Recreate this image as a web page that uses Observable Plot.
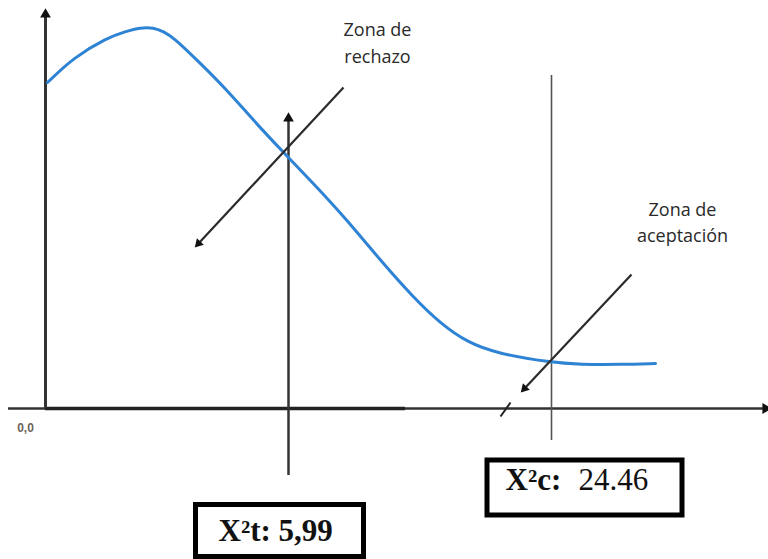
<!DOCTYPE html>
<html>
<head>
<meta charset="utf-8">
<script src="https://cdn.jsdelivr.net/npm/d3@7"></script>
<script src="https://cdn.jsdelivr.net/npm/@observablehq/plot@0.6"></script>
<style>
  html, body { margin: 0; padding: 0; background: #fff; }
  #chart svg { display: block; }
</style>
</head>
<body>
<div id="chart"></div>
<script>
// Schematic chi-square density curve (units: arbitrary, origin at 0,0)
const curveX = [2, 28, 62, 80, 95, 108, 118, 128, 152, 182, 208, 238, 268, 302, 335, 368, 395, 422, 452, 505, 535, 575, 610];
const curveY = [326, 351, 371, 377, 381, 381, 377, 371, 348, 318, 288, 256, 225, 188, 148, 111, 85, 66, 55, 46, 44, 44, 45];

// Critical values and their (schematic) positions on the x axis
const criticalLabels = ["X²t: 5,99", "X²c:"];
const criticalValueC = "24.46";
const criticalPos = [243, 506];          // positions of the vertical lines
const criticalLineLow = [-67, -32];       // bottom ends of the vertical lines
const criticalLineHigh = [290, 333];      // top ends of the vertical lines

// Axes extent
const xAxisExtent = [-37, 0, 360, 720];   // start, thick start, thick end, end
const yAxisTop = 394;

// Zone annotations
const zoneLines = [["Zona de", "rechazo"], ["Zona de", "aceptación"]];
const zoneTextX = [332, 637];
const zoneTextY = [[373, 346], [193, 167]];
const zoneArrowFrom = [[298, 321], [586, 134]];
const zoneArrowTo = [[153, 165], [479, 20]];

// Boxes around critical values
const boxX1 = [150.5, 442], boxX2 = [318.5, 637];
const boxY1 = [-96.5, -52], boxY2 = [-148.5, -107];
const boxTextX = [173, 460], boxTextY = [-132, -81];
const valueTextX = 533;

const curve = curveX.map((x, i) => ({x, y: curveY[i]}));

const zoneText = [];
zoneLines.forEach((lines, i) => lines.forEach((t, j) => zoneText.push({t, x: zoneTextX[i], y: zoneTextY[i][j]})));
const zoneArrows = zoneArrowFrom.map((f, i) => ({x1: f[0], y1: f[1], x2: zoneArrowTo[i][0], y2: zoneArrowTo[i][1]}));
const boxes = boxX1.map((x1, i) => ({x1, x2: boxX2[i], y1: boxY1[i], y2: boxY2[i]}));

const chart = Plot.plot({
  width: 768,
  height: 559,
  margin: 0,
  x: {domain: [-45, 723], range: [0, 768], axis: null},
  y: {domain: [-151, 408], range: [559, 0], axis: null},
  style: {background: "#fff"},
  marks: [
    // x axis (thick left part, thinner rest)
    Plot.ruleY([0], {x1: xAxisExtent[0], x2: xAxisExtent[3], stroke: "#333", strokeWidth: 2.5}),
    Plot.ruleY([0], {x1: xAxisExtent[1], x2: xAxisExtent[2], stroke: "#222", strokeWidth: 3.5}),
    Plot.dot([{x: xAxisExtent[3], y: 0}], {x: "x", y: "y", symbol: "triangle", r: 4, fill: "#111", rotate: 90}),
    // y axis
    Plot.ruleX([0], {y1: 0, y2: yAxisTop, stroke: "#333", strokeWidth: 3}),
    Plot.dot([{x: 0, y: yAxisTop}], {x: "x", y: "y", symbol: "triangle", r: 4, fill: "#111"}),
    // critical vertical lines
    Plot.ruleX([criticalPos[0]], {y1: criticalLineLow[0], y2: criticalLineHigh[0], stroke: "#333", strokeWidth: 2.5}),
    Plot.dot([{x: criticalPos[0], y: criticalLineHigh[0]}], {x: "x", y: "y", symbol: "triangle", r: 4, fill: "#111"}),
    Plot.ruleX([criticalPos[1]], {y1: criticalLineLow[1], y2: criticalLineHigh[1], stroke: "#555", strokeWidth: 1.6}),
    // small slash on the x axis
    Plot.link([{x1: 455, y1: -8, x2: 465, y2: 6}], {x1: "x1", y1: "y1", x2: "x2", y2: "y2", stroke: "#222", strokeWidth: 2}),
    // density curve
    Plot.line(curve, {x: "x", y: "y", curve: "basis", stroke: "#2e83d4", strokeWidth: 3}),
    // zone pointer lines
    Plot.link(zoneArrows, {x1: "x1", y1: "y1", x2: "x2", y2: "y2", stroke: "#2b2b2b", strokeWidth: 2.2}),
    Plot.dot(zoneArrows, {x: "x2", y: "y2", symbol: "triangle", r: 3.5, fill: "#111", rotate: 223}),
    // zone texts
    Plot.text(zoneText, {x: "x", y: "y", text: "t", textAnchor: "middle", lineAnchor: "bottom",
      fontFamily: "Open Sans", fontSize: 18, fill: "#2a2a2a"}),
    // origin label
    Plot.text(["0,0"], {x: -20, y: -20, text: d => d, fontFamily: "Liberation Sans", fontSize: 12, fontWeight: "bold", fill: "#6b6258"}),
    // boxes
    Plot.rect(boxes, {x1: "x1", x2: "x2", y1: "y1", y2: "y2", fill: "#fff", stroke: "#000", strokeWidth: 5}),
    Plot.text(criticalLabels, {x: (d, i) => boxTextX[i], y: (d, i) => boxTextY[i], text: d => d,
      textAnchor: "start", lineAnchor: "bottom", fontFamily: "Liberation Serif", fontWeight: "bold", fontSize: 31, fill: "#111"}),
    Plot.text([criticalValueC], {x: valueTextX, y: boxTextY[1], text: d => d,
      textAnchor: "start", lineAnchor: "bottom", fontFamily: "Liberation Serif", fontSize: 31, fill: "#111"})
  ]
});

document.getElementById("chart").appendChild(chart);
</script>
</body>
</html>
